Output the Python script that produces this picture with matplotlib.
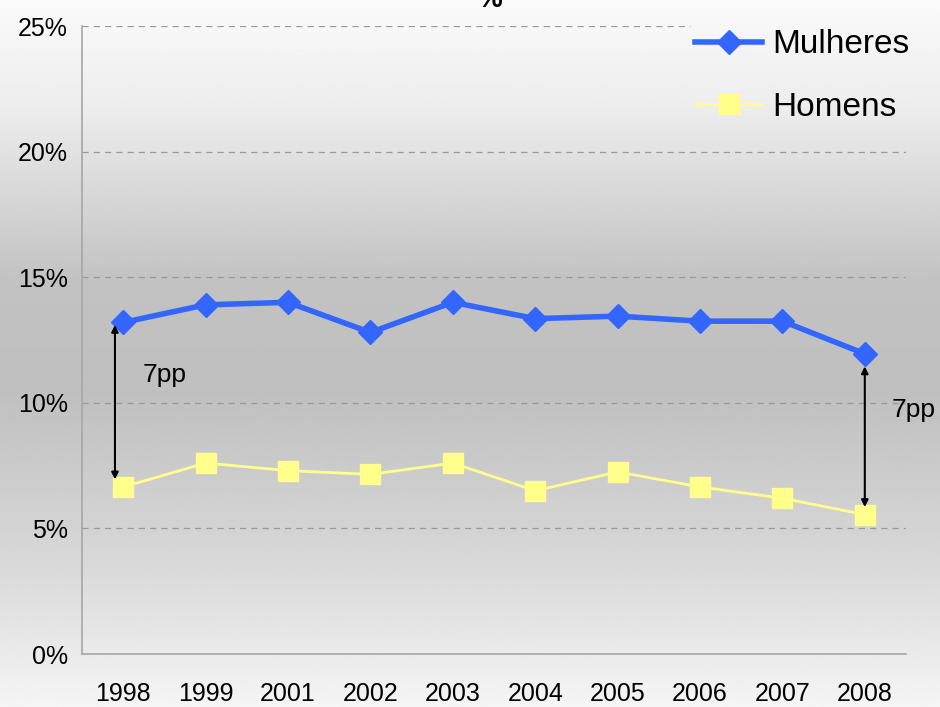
import matplotlib
matplotlib.use('Agg')
from matplotlib import pyplot as plt
import numpy as np

# data
years = ['1998', '1999', '2001', '2002', '2003', '2004', '2005', '2006', '2007', '2008']
mulheres = [13.2, 13.9, 14.0, 12.8, 14.0, 13.35, 13.45, 13.25, 13.25, 11.95]
homens = [6.65, 7.6, 7.3, 7.15, 7.6, 6.5, 7.25, 6.65, 6.2, 5.55]

plt.rcParams['font.family'] = ['Liberation Sans', 'DejaVu Sans']

fig = plt.figure(figsize=(9.4, 7.07), dpi=100)

# background gradient: light at top, gray in middle, light at bottom
bg_ax = fig.add_axes([0, 0, 1, 1], zorder=-10)
stops_y = [0.0, 0.15, 0.40, 0.55, 0.80, 1.0]
stops_v = [0.98, 0.93, 0.76, 0.75, 0.85, 0.96]
yy = np.linspace(0, 1, 400)
vals = np.interp(yy, stops_y, stops_v)
bg_ax.imshow(np.repeat(vals[:, None], 2, axis=1), cmap='gray', vmin=0, vmax=1,
             aspect='auto', extent=[0, 1, 1, 0])
bg_ax.axis('off')

ax = fig.add_axes([82 / 940, 53 / 707, 824 / 940, 628 / 707])
ax.patch.set_alpha(0)

x = np.arange(len(years))
ax.plot(x, mulheres, color='#3366FF', lw=4, marker='D', markersize=12,
        label='Mulheres', zorder=3)
ax.plot(x, homens, color='#FFFF8C', lw=2, marker='s', markersize=14,
        label='Homens', zorder=3)

# gap arrows
ax.annotate('', xy=(-0.1, mulheres[0] - 0.1), xytext=(-0.1, homens[0] + 0.3),
            arrowprops=dict(arrowstyle='<|-|>', color='black', lw=1.5,
                            mutation_scale=10, shrinkA=0, shrinkB=0))
ax.annotate('', xy=(9, mulheres[-1] - 0.5), xytext=(9, homens[-1] + 0.3),
            arrowprops=dict(arrowstyle='<|-|>', color='black', lw=1.5,
                            mutation_scale=10, shrinkA=0, shrinkB=0))
ax.text(0.23, 11.1, '7pp', fontsize=19, va='center')
ax.text(9.33, 9.7, '7pp', fontsize=19, va='center')

ax.set_xlim(-0.5, 9.5)
ax.set_ylim(0, 25)
ax.set_xticks(x)
ax.set_xticklabels(years)
ax.set_yticks([0, 5, 10, 15, 20, 25])
ax.set_yticklabels(['0%', '5%', '10%', '15%', '20%', '25%'])
ax.tick_params(length=0, labelsize=18, pad=10)
ax.tick_params(axis='x', pad=20)
for v in [5, 10, 15, 20]:
    ax.axhline(v, color='#999999', lw=0.9, ls=(0, (5, 4)), zorder=1)
# top gridline stops where the legend box starts
ax.axhline(25, xmax=0.738, color='#999999', lw=0.9, ls=(0, (5, 4)), zorder=1)
for s in ['top', 'right']:
    ax.spines[s].set_visible(False)
for s in ['left', 'bottom']:
    ax.spines[s].set_color('#A6A6A6')
    ax.spines[s].set_linewidth(1.2)

leg = ax.legend(loc='upper right', bbox_to_anchor=(1.02, 1.016), frameon=False,
                fontsize=24, handlelength=2.0, labelspacing=0.95,
                borderaxespad=0, handletextpad=0.3)

# title cut off at the top of the slide
fig.text(490 / 940, 1.0, '%', fontsize=20, fontweight='bold', ha='center', va='center')

fig.savefig('out.png', dpi=100)
